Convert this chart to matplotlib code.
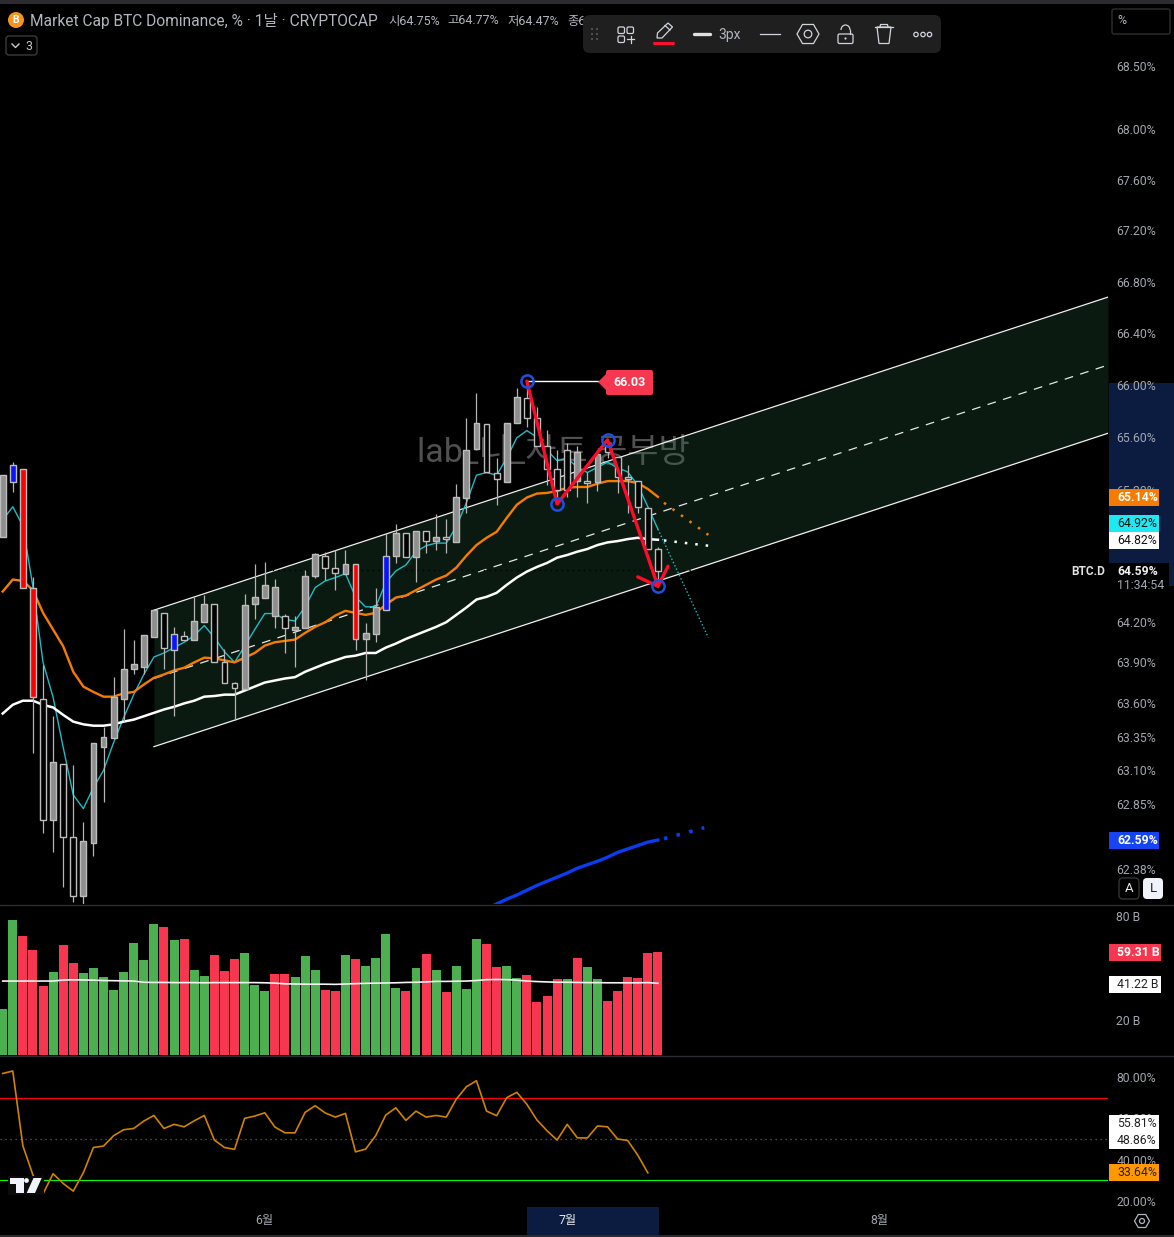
import numpy as np
import matplotlib
matplotlib.use("Agg")
import matplotlib.pyplot as plt
from matplotlib.patches import Rectangle, Circle, Polygon, FancyBboxPatch, RegularPolygon, Arc
from matplotlib.transforms import Affine2D
from matplotlib.ticker import NullLocator

plt.rcParams['font.family'] = ['Roboto', 'Noto Sans CJK KR', 'DejaVu Sans']

# ---------- data ----------
candle_high = [65.31,65.41,65.335,64.54,63.88,63.505,63.15,63.14,62.72,63.30,63.42,63.79,64.15,64.07,64.106,64.295,64.27,64.165,64.135,
               64.39,64.406,64.34,64.00,63.755,64.415,64.64,64.655,64.525,64.265,64.25,64.595,64.72,64.73,64.745,64.745,64.64,64.195,64.46,
               64.87,64.94,64.87,64.885,64.885,65.015,64.975,65.245,65.745,65.94,65.70,65.44,65.71,65.98,66.00,65.83,65.655,65.50,65.555,
               65.53,65.335,65.50,65.58,65.45,65.39,65.265,65.06,64.765]
candle_low = [64.84,65.18,64.46,63.23,62.645,62.505,62.245,62.14,62.09,62.47,62.865,63.34,63.465,63.81,63.815,64.09,63.85,63.50,64.07,
              64.07,64.20,63.90,63.75,63.475,63.70,64.225,64.385,64.16,63.97,63.865,64.16,64.535,64.52,64.44,64.565,63.995,63.77,64.055,
              64.295,64.645,64.69,64.505,64.72,64.745,64.72,64.80,65.02,65.50,65.335,65.085,65.26,65.71,65.68,65.53,65.236,65.145,65.145,
              65.145,65.10,65.19,65.44,65.175,65.02,65.02,64.75,64.52]
body_high = [65.31,65.39,65.36,64.46,63.63,63.16,63.15,62.615,62.585,63.30,63.35,63.64,63.85,63.89,64.106,64.295,64.27,64.11,64.10,
             64.21,64.34,64.34,63.90,63.75,64.33,64.39,64.48,64.465,64.25,64.165,64.55,64.715,64.70,64.61,64.64,64.64,64.12,64.316,
             64.70,64.87,64.87,64.885,64.885,64.84,64.84,65.145,65.50,65.71,65.70,65.33,65.71,65.91,65.90,65.745,65.53,65.36,65.50,
             65.49,65.265,65.47,65.53,65.45,65.295,65.265,65.06,64.75]
body_low = [64.84,65.26,64.46,63.64,62.74,62.74,62.615,62.18,62.18,62.57,63.27,63.34,63.63,63.85,63.865,64.09,64.01,63.995,64.07,
            64.07,64.20,63.90,63.75,63.71,63.70,64.34,64.385,64.25,64.16,64.145,64.16,64.55,64.61,64.57,64.565,64.075,64.075,64.11,
            64.295,64.70,64.69,64.69,64.81,64.81,64.825,64.80,65.14,65.51,65.335,65.28,65.26,65.71,65.745,65.53,65.36,65.20,65.20,
            65.265,65.25,65.26,65.485,65.295,65.28,65.07,64.75,64.585]
candle_style = list("gbrrhghhgggggggghbhgghhhgggghggghhgr" "ggbghghghggghhggh" "hhhhghghhhhhh")[:66]

ema_fast = [64.97,65.07,64.925,64.465,63.90,63.64,63.27,62.92,62.82,62.975,63.10,63.305,63.49,63.66,63.81,63.94,63.97,64.01,64.05,64.10,
            64.175,64.085,63.98,63.90,64.02,64.145,64.265,64.265,64.22,64.21,64.315,64.46,64.51,64.535,64.565,64.39,64.315,64.315,64.495,
            64.585,64.63,64.73,64.775,64.795,64.795,64.92,65.10,65.31,65.33,65.31,65.44,65.595,65.65,65.60,65.50,65.42,65.44,65.37,65.33,
            65.37,65.41,65.365,65.335,65.235,65.07,64.90]
ema_mid = [64.43,64.52,64.51,64.44,64.27,64.145,64.02,63.83,63.72,63.68,63.645,63.645,63.67,63.68,63.735,63.785,63.81,63.84,63.86,63.90,
           63.935,63.93,63.915,63.90,63.935,63.97,64.025,64.05,64.06,64.07,64.12,64.165,64.20,64.25,64.285,64.27,64.255,64.27,64.33,64.385,
           64.40,64.44,64.48,64.52,64.55,64.61,64.70,64.78,64.835,64.88,64.985,65.085,65.14,65.17,65.175,65.19,65.215,65.22,65.22,65.245,
           65.265,65.265,65.265,65.25,65.205,65.145]
ema_slow = [63.52,63.585,63.615,63.615,63.585,63.565,63.51,63.46,63.44,63.43,63.43,63.44,63.46,63.475,63.50,63.525,63.55,63.57,63.595,63.615,
            63.645,63.65,63.66,63.66,63.69,63.72,63.75,63.765,63.78,63.79,63.83,63.86,63.89,63.915,63.94,63.95,63.97,63.97,64.01,64.04,64.075,
            64.105,64.135,64.165,64.20,64.255,64.31,64.37,64.39,64.42,64.48,64.535,64.58,64.615,64.645,64.685,64.705,64.73,64.75,64.78,64.80,
            64.81,64.825,64.835,64.825,64.82]
ema_long = [62.09,62.125,62.16,62.19,62.225,62.26,62.29,62.32,62.35,62.385,62.41,62.435,62.465,62.50,62.525,62.55,62.575,62.59]
ema_long_start = 48
forecast_end = 70
fast_forecast, mid_forecast, slow_forecast, long_forecast = 64.085, 64.857, 64.775, 62.68

channel_x = [15, 109.65]
channel_top = [64.29, 66.68]
channel_mid = [63.78, 66.154]
channel_bot = [63.275, 65.63]
last_price = 64.59

zigzag_x = [52, 55, 60, 65]
zigzag_y = [66.03, 65.09, 65.58, 64.47]
arrow_x = [63, 65, 66]
arrow_y = [64.54, 64.47, 64.62]

volume = [26.4,77.6,68.4,60.3,39.7,47.7,63.2,52.9,47.1,50.0,44.8,37.4,47.7,64.4,54.6,75.3,73.6,66.1,66.7,48.9,45.4,57.5,48.3,55.2,58.6,40.2,36.8,
          46.6,46.6,44.8,56.9,48.9,37.4,36.8,57.5,55.2,51.1,55.7,69.5,38.5,36.8,50.0,58.0,48.9,36.2,51.1,37.9,66.7,63.8,50.6,51.1,44.3,46.0,30.5,
          33.9,43.7,43.7,55.7,50.6,43.7,31.0,36.8,44.8,44.3,58.6,59.31]
volume_up = list("GGRRRGRRGGGGGGGGRGRGGRRRGGGRRGGGRRGRGGGGRGRGRGGGRRGGRRRRGRGGRRRRRR")
volume_sma = [42.5,42.5,42.5,42.5,42.5,42.5,43.1,43.2,43.1,43.0,42.8,42.7,42.6,42.5,41.8,41.7,41.7,41.6,41.6,41.6,41.5,41.6,41.6,41.6,41.6,41.6,41.5,
              41.3,40.9,40.8,40.7,40.7,40.7,40.6,40.8,41.0,41.2,41.3,41.4,41.5,41.7,41.8,42.0,42.3,42.3,42.4,42.5,42.8,43.3,43.4,43.3,43.0,42.5,42.2,
              42.0,41.8,41.8,41.7,41.6,41.6,41.5,41.5,41.5,41.5,41.6,41.22]
rsi = [81.7,82.9,46.7,32.6,23.5,33.2,28.5,24.8,33.7,45.9,46.6,51.6,54.5,55.1,58.7,61.4,55.1,57.1,55.9,58.8,61.4,49.5,45.9,45.0,60.0,61.1,62.7,55.8,
       53.0,53.0,62.9,66.1,62.6,60.6,62.4,43.8,45.1,51.6,61.6,65.1,59.0,63.5,60.6,61.4,60.6,69.3,75.3,78.2,63.5,61.3,70.0,72.6,66.8,59.2,54.0,49.5,
       57.1,50.6,50.5,56.3,55.9,50.0,49.3,42.2,33.64]

price_ticks = [68.50,68.00,67.60,67.20,66.80,66.40,66.00,65.60,65.20,64.20,63.90,63.60,63.35,63.10,62.85,62.38]
volume_ticks = [80, 20]
rsi_ticks = [80, 60, 40, 20]
month_pos = [26, 56, 87]
month_labels = ['6월', '7월', '8월']

# ---------- layout ----------
W, H = 1174, 1237
fig = plt.figure(figsize=(W / 100, H / 100), dpi=100, facecolor='black')

def panel(top, bottom, right=1108):
    a = fig.add_axes([0, 1 - bottom / H, right / W, (bottom - top) / H])
    a.set_facecolor('none')
    for s in a.spines.values():
        s.set_visible(False)
    a.set_xlim(-0.268, 109.65)
    a.yaxis.tick_right()
    a.set_xticks([])
    a.tick_params(axis='y', length=0, pad=6.0, labelsize=8.8, labelcolor='#a3a6af')
    return a

TXT = '#a3a6af'
ax = panel(4, 904)
ax.set_yscale('log')
ax.set_ylim(62.125, 68.998)
ax.yaxis.set_minor_locator(NullLocator())
ax.set_yticks(price_ticks)
ax.set_yticklabels([f'{t:.2f}%' for t in price_ticks])

# watermark, placed in screen pixels
screen = Affine2D().scale(1, -1).translate(0, H)
ax.text(553, 453, 'lab_니_차트 공부방', transform=screen, fontsize=24.5, color='#505050',
        ha='center', va='center', zorder=0.5)

# channel
ax.fill_between(channel_x, channel_bot, channel_top, color='#2e6b40', alpha=0.25, lw=0, zorder=1)
ax.plot(channel_x, channel_top, color='#f0f0f0', lw=0.9, zorder=2)
ax.plot(channel_x, channel_bot, color='#f0f0f0', lw=0.9, zorder=2)
ax.plot(channel_x, channel_mid, color='#e8e8e8', lw=0.9, ls=(0, (7, 6)), zorder=2)
ax.axhline(last_price, color='#000000', lw=1, ls=(0, (1, 3)), zorder=2.2)

# moving averages
idx = np.arange(len(ema_fast))
ax.plot(idx, ema_fast, color='#1fbcc6', lw=1.0, zorder=2.5)
ax.plot(idx, ema_mid, color='#f57c00', lw=1.7, zorder=2.6)
ax.plot(idx, ema_slow, color='#ffffff', lw=1.8, zorder=2.7)
long_x = np.arange(ema_long_start, ema_long_start + len(ema_long))
ax.plot(long_x, ema_long, color='#0a3cf0', lw=2.4, zorder=2.7)
last = idx[-1]
ax.plot([last, forecast_end], [ema_fast[-1], fast_forecast], color='#1fbcc6', lw=1, ls=(0, (1, 1.6)), zorder=2.5)
ax.plot([last + 0.6, forecast_end], [65.10, mid_forecast], color='#f57c00', lw=1.8, ls=(0, (1, 3.2)), zorder=2.6)
ax.plot([last + 0.6, forecast_end], [64.815, slow_forecast], color='#ffffff', lw=1.8, ls=(0, (1, 3.2)), zorder=2.6)
ax.plot([last + 0.6, forecast_end - 0.4], [62.60, long_forecast], color='#0a3cf0', lw=2.6, ls=(0, (1, 2.6)), zorder=2.6)

# candles
fills = {'g': '#8e8e8e', 'h': '#000000', 'r': '#ff0000', 'b': '#0a14ff'}
for i, (hi, lo, bt, bb, st) in enumerate(zip(candle_high, candle_low, body_high, body_low, candle_style)):
    ax.plot([i, i], [lo, hi], color='#b4b4b4', lw=0.9, zorder=3, solid_capstyle='butt')
    ax.bar(i, bt - bb, bottom=bb, width=0.58, color=fills[st], edgecolor='#bdbdbd', lw=1.0, zorder=3.2)

# drawing
ax.plot([zigzag_x[0], 59.05], [zigzag_y[0], zigzag_y[0]], color='white', lw=1, zorder=5)
ax.plot(zigzag_x, zigzag_y, color='#ff0a2a', lw=2.4, zorder=6, solid_capstyle='round', solid_joinstyle='round')
ax.plot(arrow_x, arrow_y, color='#ff0a2a', lw=2.4, zorder=6, solid_capstyle='round', solid_joinstyle='miter')
ax.plot(zigzag_x, zigzag_y, ls='none', marker='o', ms=8.8, mfc='none', mec='#1e50e0', mew=1.8, zorder=7)

# volume
axv = panel(905, 1055)
axv.set_ylim(0, 150 / 1.74)
axv.bar(np.arange(len(volume)), volume, width=0.89,
        color=['#4caf50' if c == 'G' else '#f7374f' for c in volume_up], lw=0, zorder=2)
axv.plot(np.arange(len(volume_sma)), volume_sma, color='#f4f4f4', lw=1.2, zorder=3)
axv.set_yticks(volume_ticks)
axv.set_yticklabels([f'{t} B' for t in volume_ticks])

# RSI
axr = panel(1056, 1206)
axr.set_ylim(17.6, 90.16)
axr.plot(np.arange(len(rsi)), rsi, color='#d08300', lw=1.2, zorder=3)
axr.axhline(70, color='#ff0000', lw=0.8, zorder=2)
axr.axhline(30, color='#00ff00', lw=0.8, zorder=2)
axr.axhline(50, color='#666666', lw=0.9, ls=(0, (1, 3)), zorder=2)
axr.set_yticks(rsi_ticks)
axr.set_yticklabels([f'{t:.2f}%' for t in rsi_ticks])
axr.set_xticks(month_pos)
axr.set_xticklabels(month_labels, fontsize=8.8, color=TXT)
axr.tick_params(axis='x', length=0, pad=5.5)
axr.get_xticklabels()[1].set_color('#e8e8e8')

# underlay bands
def band(x0, y0, x1, y1, color):
    fig.add_artist(Rectangle((x0 / W, 1 - y1 / H), (x1 - x0) / W, (y1 - y0) / H,
                             transform=fig.transFigure, color=color, lw=0, zorder=-1))
band(1109, 383, 1174, 586, '#0b1c40')
band(527, 1207, 659, 1235, '#0b1c40')

# ---------- overlay: interface elements in screen pixels ----------
ov = fig.add_axes([0, 0, 1, 1], zorder=20)
ov.set_xlim(0, W)
ov.set_ylim(H, 0)
ov.axis('off')

def rect(x0, y0, x1, y1, fc, ec='none', lw=0, z=1):
    ov.add_patch(Rectangle((x0, y0), x1 - x0, y1 - y0, fc=fc, ec=ec, lw=lw, zorder=z))

def rrect(x0, y0, x1, y1, r, fc, ec='none', lw=0, z=1):
    ov.add_patch(FancyBboxPatch((x0 + r, y0 + r), x1 - x0 - 2 * r, y1 - y0 - 2 * r,
                                boxstyle=f'round,pad={r},rounding_size={r}', fc=fc, ec=ec, lw=lw, zorder=z))

def label(x0, x1, yc, s, fc, col, weight='normal', h=8.5, tx=1117):
    rect(x0, yc - h, x1, yc + h, fc, z=3)
    ov.text(tx, yc, s, color=col, fontsize=8.8, fontweight=weight, va='center', ha='left', zorder=4)

rect(0, 0, W, 4, '#2b2b2f')
rect(0, 1235, W, H, '#2b2b2f')
ov.plot([0, W], [904.5, 904.5], color='#2a2c38', lw=1, zorder=1)
ov.plot([0, W], [1055.5, 1055.5], color='#2a2c38', lw=1, zorder=1)

label(1109, 1159, 497.5, '65.14%', '#f57c00', 'white', 'bold')
label(1109, 1159, 523.5, '64.92%', '#1ee8f2', '#111111')
label(1109, 1159, 540.5, '64.82%', '#ffffff', '#111111')
rect(1067, 563, 1109, 580, '#000000', z=3)
rect(1109, 563, 1169, 595, '#000000', z=3)
ov.text(1071, 571.5, 'BTC.D', color='#e0e0e0', fontsize=8.6, fontweight='bold', va='center', zorder=4)
ov.text(1117, 571.5, '64.59%', color='#f0f0f0', fontsize=8.8, fontweight='bold', va='center', zorder=4)
ov.text(1117, 585.5, '11:34:54', color='#a3a6af', fontsize=8.8, va='center', zorder=4)
label(1109, 1159, 840.5, '62.59%', '#1644f2', 'white', 'bold')
label(1109, 1161, 952.5, '59.31 B', '#f7374f', 'white', 'bold')
label(1109, 1161, 984, '41.22 B', '#ffffff', '#222222')
rect(1109, 1115, 1159, 1149, '#ffffff', z=3)
ov.text(1117, 1123.5, '55.81%', color='#222222', fontsize=8.8, va='center', zorder=4)
ov.text(1117, 1140.5, '48.86%', color='#222222', fontsize=8.8, va='center', zorder=4)
label(1109, 1159, 1172.5, '33.64%', '#ff9800', '#222222')

# price callout
ov.add_patch(Polygon([(598, 382), (607, 373), (607, 391)], fc='#f7374f', ec='none', zorder=3))
rrect(606, 370, 653, 395, 2, '#f7374f', z=3)
ov.text(629.5, 382, '66.03', color='white', fontsize=9, fontweight='bold', ha='center', va='center', zorder=4)

# header
ov.add_patch(Circle((16, 20), 8, fc='#f7931a', ec='none', zorder=2))
ov.text(16, 20, 'B', color='white', fontsize=7.5, fontweight='bold', ha='center', va='center', zorder=3)
ov.text(30, 21, 'Market Cap BTC Dominance, % · 1날 · CRYPTOCAP', color='#b2b5be', fontsize=11.2, va='center', zorder=2)
for hx, hs in [(388, '시64.75%'), (447, '고64.77%'), (507, '저64.47%'), (567, '종64.59%')]:
    ov.text(hx, 21, hs, color='#b2b5be', fontsize=8.9, va='center', zorder=2)
rrect(6, 36, 37, 55, 3, 'none', '#3a3a3e', 1)
ov.plot([12, 15.5, 19], [44, 47.5, 44], color='#c8c8c8', lw=1, zorder=2)
ov.text(28.5, 46, '3', color='#c8c8c8', fontsize=8.8, ha='center', va='center', zorder=2)
rrect(1112, 9, 1170, 34, 2, 'none', '#2e2e32', 1)
ov.text(1117, 21, '%', color='#b2b5be', fontsize=8.8, va='center', zorder=2)

# toolbar
rrect(583, 15, 941, 53, 7, '#1f1f1f', z=5)
IC = '#d1d4dc'
for dx in (592, 597):
    for dy in (29, 34, 39):
        ov.add_patch(Circle((dx, dy), 1.1, fc='#555555', ec='none', zorder=6))
for (a, b) in [(618, 27), (627, 27), (618, 36)]:
    rrect(a, b, a + 6.5, b + 6.5, 1.5, 'none', IC, 0.9, 6)
ov.plot([630.5, 630.5], [36, 42.5], color=IC, lw=0.9, zorder=6)
ov.plot([627, 634], [39.3, 39.3], color=IC, lw=0.9, zorder=6)
ov.add_patch(Polygon([(657, 38), (657.5, 33), (668, 23), (672.5, 27), (662, 38)], fc='none', ec=IC, lw=0.9, zorder=6))
ov.plot([665, 670], [25.5, 30], color=IC, lw=0.9, zorder=6)
rrect(653, 42, 675, 45, 1.4, '#f7102f', z=6)
ov.plot([694, 710], [34, 34], color='#e0e0e0', lw=2.4, solid_capstyle='round', zorder=6)
ov.text(718, 34.5, '3px', color='#b2b5be', fontsize=10, va='center', zorder=6)
ov.plot([760, 780], [33.5, 33.5], color=IC, lw=0.9, zorder=6)
ov.add_patch(RegularPolygon((808, 34), 6, radius=11, orientation=np.pi / 2, fc='none', ec=IC, lw=0.9, zorder=6))
ov.add_patch(Circle((808, 34), 3.8, fc='none', ec=IC, lw=0.9, zorder=6))
rrect(838, 34, 853, 43.5, 1.5, 'none', IC, 0.9, 6)
ov.add_patch(Arc((845.5, 30), 9, 10, theta1=180, theta2=360, color=IC, lw=0.9, zorder=6))
ov.plot([850, 850], [30, 34], color=IC, lw=0.9, zorder=6)
ov.add_patch(Circle((845.5, 38.5), 1.1, fc=IC, ec='none', zorder=6))
ov.plot([875, 893], [27, 27], color=IC, lw=0.9, zorder=6)
ov.add_patch(Polygon([(877, 27), (879, 43.5), (889, 43.5), (891, 27)], fc='none', ec=IC, lw=0.9, zorder=6))
ov.plot([880, 880.5, 887.5, 888], [27, 24.5, 24.5, 27], color=IC, lw=0.9, zorder=6)
for dx in (916, 923, 929.5):
    ov.add_patch(Circle((dx, 34.5), 2.2, fc='none', ec=IC, lw=0.9, zorder=6))

# A / L buttons
rrect(1119, 878, 1139, 899, 4, '#000000', '#333333', 1, 3)
ov.text(1129, 889, 'A', color='#e8e8e8', fontsize=9.5, ha='center', va='center', zorder=4)
rrect(1143, 878, 1163, 899, 4, '#f0f3fa', z=3)
ov.text(1153, 889, 'L', color='#222222', fontsize=9.5, ha='center', va='center', zorder=4)

# settings icon
ov.add_patch(RegularPolygon((1142, 1221), 6, radius=7.5, orientation=np.pi / 2, fc='none', ec='#b2b5be', lw=0.9, zorder=3))
ov.add_patch(Circle((1142, 1221), 2.5, fc='none', ec='#b2b5be', lw=0.9, zorder=3))

# TradingView mark
rect(8, 1176, 44, 1195, '#0b0b0b', z=2)
LOGO = '#f0f3fa'
ov.add_patch(Polygon([(10, 1178), (23.5, 1178), (23.5, 1193), (16, 1193), (16, 1184), (10, 1184)], fc=LOGO, ec='none', zorder=3))
ov.add_patch(Circle((26.5, 1180.5), 2.4, fc=LOGO, ec='none', zorder=3))
ov.add_patch(Polygon([(33.5, 1178), (41.7, 1178), (35, 1193), (26.7, 1193)], fc=LOGO, ec='none', zorder=3))

fig.savefig('out.png', dpi=100, facecolor='black')
